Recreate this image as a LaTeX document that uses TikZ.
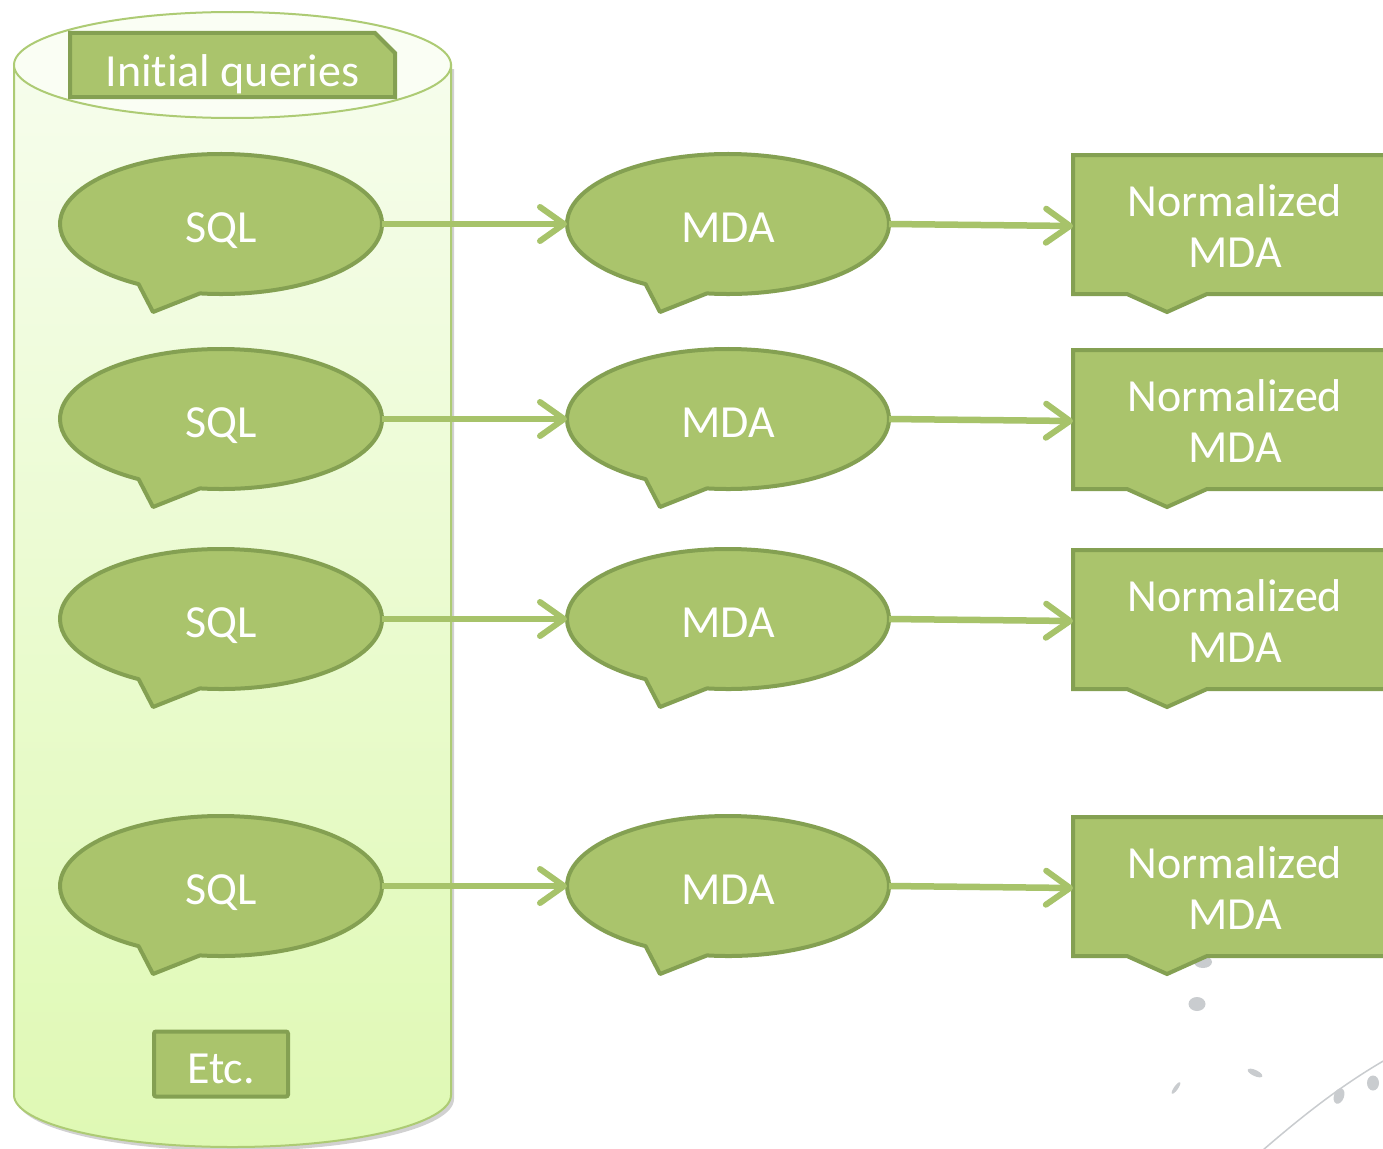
\documentclass[tikz,border=0pt]{standalone}
\usepackage{fontspec}
\setmainfont{Carlito}[Ligatures=NoCommon]
\usetikzlibrary{shapes.geometric,shapes.misc,arrows.meta}
\definecolor{gfill}{HTML}{AAC46C}
\definecolor{gline}{HTML}{84A052}
\definecolor{arrowc}{HTML}{A7C36A}
\definecolor{cylline}{HTML}{ADCB74}
\definecolor{cyltop}{HTML}{F6FDEC}
\definecolor{cylbot}{HTML}{DFF9B4}
\definecolor{deco}{HTML}{C9CCCF}
\begin{document}
\begin{tikzpicture}[x=1pt,y=-1pt,
  every node/.style={font=\fontsize{46}{51}\selectfont, text=white, inner sep=0pt, outer sep=0pt},
  bubbleshape/.style={draw=gline, fill=gfill, line width=4pt, line join=round},
  bubble/.style={ellipse, minimum width=322pt, minimum height=140pt, text height=36pt, text depth=0pt},
  rbox/.style={draw=gline, fill=gfill, line width=4pt, line join=miter},
  plainbox/.style={draw=gline, fill=gfill, line width=4pt},
  arr/.style={draw=arrowc, line width=6.5pt, -{Straight Barb[length=24pt,width=34pt,line width=6pt,round]}},
  decoblob/.style={fill=deco, draw=none}
]
\useasboundingbox (0,0) rectangle (1383,1148);
\fill[white] (0,0) rectangle (1383,1148);
\clip (0,0) rectangle (1383,1148);
% background decoration
\fill[decoblob] (1203,962) ellipse[x radius=9pt, y radius=6pt];
\fill[decoblob] (1197,1004) ellipse[x radius=8.5pt, y radius=7pt];
\fill[decoblob, rotate around={55:(1176,1088)}] (1176,1088) ellipse[x radius=7pt, y radius=2pt];
\fill[decoblob, rotate around={-25:(1255,1073)}] (1255,1073) ellipse[x radius=8pt, y radius=3pt];
\fill[decoblob, rotate around={-20:(1339,1096)}] (1339,1096) ellipse[x radius=5pt, y radius=8pt];
\fill[decoblob] (1373,1083) ellipse[x radius=6pt, y radius=7.5pt];
\draw[deco, line width=1.5pt] (1263,1150) .. controls (1300,1118) and (1340,1086) .. (1385,1060);
% cylinder
\begin{scope}[shift={(3,4)}]
\fill[black, opacity=0.18] (14,65) -- (14,1095) arc[start angle=180, end angle=360, x radius=218.5pt, y radius=52pt] -- (451,65) -- cycle;
\end{scope}
\path[top color=cyltop, bottom color=cylbot, draw=cylline, line width=2pt]
  (14,65) -- (14,1095) arc[start angle=180, end angle=360, x radius=218.5pt, y radius=52pt] -- (451,65) -- cycle;
\draw[cylline, fill=cyltop!60!white, line width=2pt] (232.5,65) ellipse[x radius=218.5pt, y radius=53pt];
\node[chamfered rectangle, chamfered rectangle corners=north east,
  chamfered rectangle xsep=10pt, chamfered rectangle ysep=10pt,
  plainbox, minimum width=325pt, minimum height=64pt, text height=42pt, text depth=0pt] (iq) at (232.5,65) {Initial queries};
\node[plainbox, rounded corners=2pt, minimum width=134pt, minimum height=65pt, text height=38pt, text depth=0pt] (etc) at (221,1064) {Etc.};
% rows
\foreach \y/\i in {224/1,419/2,619/3,886/4}{
  \path[rbox] (1073,\y-69) -- (1400,\y-69) -- (1400,\y+70) -- (1207,\y+70) -- (1167,\y+88) -- (1127,\y+70) -- (1073,\y+70) -- cycle;
  \node[minimum width=324pt, minimum height=139pt, align=center] (n\i) at (1235,\y+2) {Normalized\\MDA};
  \path[bubbleshape] (221,\y) ++(262.5:161pt and 70pt) arc[start angle=262.5, end angle=599.2, x radius=161pt, y radius=70pt] -- (153,\y+88) -- cycle;
  \path[bubbleshape] (728,\y) ++(262.5:161pt and 70pt) arc[start angle=262.5, end angle=599.2, x radius=161pt, y radius=70pt] -- (660,\y+88) -- cycle;
  \node[bubble] (s\i) at (221,\y) {SQL};
  \node[bubble] (m\i) at (728,\y) {MDA};
  \draw[arr] (s\i.east) -- (m\i.west);
  \draw[arr] (m\i.east) -- (n\i.west);
}
\end{tikzpicture}
\end{document}
